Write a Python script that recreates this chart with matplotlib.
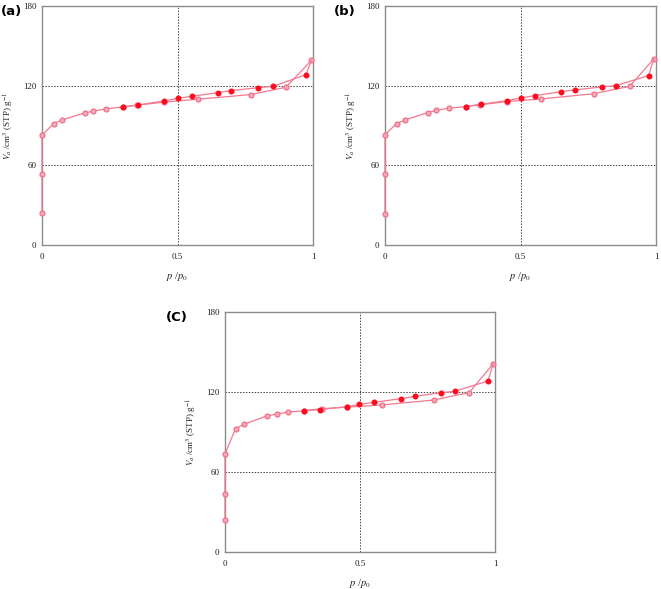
import matplotlib
matplotlib.use("Agg")
import matplotlib.pyplot as plt

# adsorption (open) and desorption (filled) branches
ads_x_a = [0, 0, 0, 0.043, 0.074, 0.158, 0.19, 0.235, 0.30, 0.35, 0.45, 0.576, 0.77, 0.90, 0.994]
ads_y_a = [23.8, 53.6, 82.7, 91.5, 94.2, 99.5, 100.8, 102.5, 104.0, 105.3, 107.6, 109.8, 113.3, 118.8, 139.0]
des_x_a = [0.994, 0.974, 0.853, 0.797, 0.698, 0.649, 0.554, 0.50, 0.452, 0.354, 0.30]
des_y_a = [139.0, 128.3, 119.5, 118.5, 116.3, 114.8, 112.0, 110.5, 108.5, 105.5, 104.0]

ads_x_b = [0, 0, 0, 0.043, 0.075, 0.157, 0.19, 0.235, 0.30, 0.35, 0.45, 0.577, 0.773, 0.903, 0.991]
ads_y_b = [23.6, 53.4, 83.0, 91.5, 94.2, 99.7, 101.4, 103.0, 104.3, 105.6, 108.0, 110.0, 114.0, 119.5, 140.0]
des_x_b = [0.991, 0.973, 0.851, 0.799, 0.70, 0.651, 0.553, 0.502, 0.452, 0.354, 0.299]
des_y_b = [140.0, 127.6, 120.0, 119.0, 116.8, 115.5, 112.5, 110.8, 108.8, 106.0, 104.3]

ads_x_c = [0, 0, 0, 0.039, 0.07, 0.154, 0.192, 0.235, 0.294, 0.36, 0.45, 0.58, 0.773, 0.904, 0.993]
ads_y_c = [23.75, 43.5, 73.5, 92.5, 95.75, 102.0, 103.5, 105.0, 106.0, 107.5, 108.6, 110.25, 114.0, 119.5, 141.0]
des_x_c = [0.993, 0.974, 0.85, 0.80, 0.703, 0.651, 0.553, 0.498, 0.453, 0.35, 0.294]
des_y_c = [141.0, 128.25, 120.5, 119.5, 116.75, 115.0, 112.25, 110.75, 109.0, 106.75, 106.0]

panels = [
    ("(a)", ads_x_a, ads_y_a, des_x_a, des_y_a),
    ("(b)", ads_x_b, ads_y_b, des_x_b, des_y_b),
    ("(C)", ads_x_c, ads_y_c, des_x_c, des_y_c),
]
xticks = [0, 0.5, 1]
xtick_labels = ["0", "0.5", "1"]
yticks = [0, 60, 120, 180]

W, H = 661, 589
plt.rcParams["font.family"] = ["Liberation Serif", "DejaVu Serif"]
plt.rcParams["mathtext.fontset"] = "stix"

fig = plt.figure(figsize=(W / 100, H / 100), dpi=100)

# axes boxes in pixels: left, top, right, bottom ; panel label centre
boxes = [(42, 6, 313, 245), (385, 6, 656, 245), (225, 312, 495, 552)]
label_pos = [(11, 12), (345, 12), (177, 318)]

line_col = "#f27a90"
open_edge = "#f06a84"
open_face = "#f7a9b8"
fill_col = "#ff0a1e"

for (lab, ax_x, ax_y, dx, dy), (l, t, r, b), (lx, ly) in zip(panels, boxes, label_pos):
    ax = fig.add_axes([l / W, 1 - b / H, (r - l) / W, (b - t) / H])
    ax.set_xlim(0, 1)
    ax.set_ylim(0, 180)
    for s in ax.spines.values():
        s.set_color("#8c8c8c")
        s.set_linewidth(1.0)
    ax.axhline(60, color="#444444", ls=(0, (1.5, 1.5)), lw=0.7, zorder=1)
    ax.axhline(120, color="#444444", ls=(0, (1.5, 1.5)), lw=0.7, zorder=1)
    ax.axvline(0.5, color="#444444", ls=(0, (1.5, 1.5)), lw=0.7, zorder=1)

    ax.plot(ax_x, ax_y, color=line_col, lw=0.9, marker="o", ms=3.6,
            mfc=open_face, mec=open_edge, mew=0.8, zorder=3, clip_on=False)
    ax.plot(dx, dy, color=line_col, lw=0.9, zorder=3, clip_on=False)
    ax.plot(dx[1:], dy[1:], ls="none", marker="o", ms=3.3, mfc=fill_col,
            mec=fill_col, zorder=4)

    ax.set_xticks(xticks)
    ax.set_xticklabels(xtick_labels)
    ax.set_yticks(yticks)
    ax.tick_params(length=0, labelsize=6.5, colors="#222222")
    ax.tick_params(axis="x", pad=6)
    ax.tick_params(axis="y", pad=4)
    ax.set_xlabel(r"$p$ /$p_0$", fontsize=7.5, labelpad=6, color="#222222")
    ax.set_ylabel(r"$V_a$ /cm$^3$ (STP) g$^{-1}$", fontsize=6.5, labelpad=5,
                  color="#222222")
    fig.text(lx / W, 1 - ly / H, lab, fontsize=9.5, fontweight="bold",
             family=["DejaVu Sans"], ha="center", va="center")

fig.savefig("out.png", dpi=100)
